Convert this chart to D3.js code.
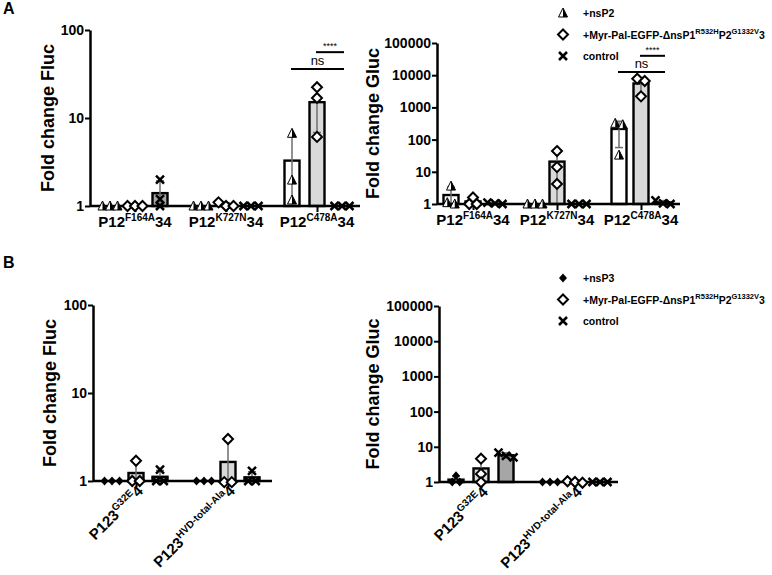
<!DOCTYPE html>
<html>
<head>
<meta charset="utf-8">
<script src="https://cdn.jsdelivr.net/npm/d3@7"></script>
<style>
  body { margin: 0; background: #fff; }
  text { font-family: "Liberation Sans", Arial, sans-serif; }
</style>
</head>
<body>
<div id="chart"></div>
<script>
// ---- data (fold change, 3 replicates per bar) ----
const groupsA = ["F164A", "K727N", "C478A"]
const groupsB = ["G32E", "HVD-total-Ala"]

// panel A, Fluc
const flucA_nsP2 = [[1, 1, 1], [1, 1, 1], [6.7, 1.97, 1.17]]
const flucA_myr  = [[1, 1, 1], [1, 1.1, 1], [22.4, 16.9, 6.1]]
const flucA_ctrl = [[2.0, 1.2, 1.0], [1, 1, 1], [1, 1, 1]]
// panel A, Gluc
const glucA_nsP2 = [[3.6, 1.1, 1.0], [1, 1, 1], [320, 290, 33]]
const glucA_myr  = [[1.6, 1.0, 1.0], [44, 14, 4.2], [6600, 7800, 2200]]
const glucA_ctrl = [[1.1, 1.0, 1.05], [1, 1, 1], [1.3, 1.0, 1.05]]
// panel B, Fluc
const flucB_nsP3 = [[1, 1, 1], [1, 1, 1]]
const flucB_myr  = [[1.7, 1.0, 1.0], [3.0, 0.97, 0.97]]
const flucB_ctrl = [[1.35, 1.0, 1.0], [1.3, 1.0, 1.0]]
// panel B, Gluc
const glucB_nsP3 = [[1.5, 1.0, 1.0], [1, 1, 1]]
const glucB_myr  = [[4.6, 1.7, 0.98], [1.05, 0.95, 1.0]]
const glucB_ctrl = [[6.8, 5.5, 5.0], [1, 1, 1]]

const flucTicks = [1, 10, 100]
const glucTicks = [1, 10, 100, 1000, 10000, 100000]

// significance brackets (series index from/to, level in data units)
const sigFluc = [{from: 0, to: 2, label: "ns", at: 36}, {from: 1, to: 2, label: "****", at: 56}]
const sigGluc = [{from: 0, to: 2, label: "ns", at: 12600}, {from: 1, to: 2, label: "****", at: 40000}]

const myrParts = [["+Myr-Pal-EGFP-ΔnsP1", 0], ["R532H", 1], ["P2", 0], ["G1332V", 1], ["3", 0]]
const legendA = [
  {shape: "tri", parts: [["+nsP2", 0]]},
  {shape: "dia", parts: myrParts},
  {shape: "x", parts: [["control", 0]]}
]
const legendB = [
  {shape: "fdia", parts: [["+nsP3", 0]]},
  {shape: "dia", parts: myrParts},
  {shape: "x", parts: [["control", 0]]}
]

// ---- drawing ----
const W = 772, H = 575
const svg = d3.select("#chart").append("svg")
  .attr("width", W)
  .attr("height", H)

const fills = ["#ffffff", "#d9d9d9", "#a6a6a6"]

const shapes = {
  tri: g => {
    g.append("path").attr("d", "M0,-5L4.5,4L-4.5,4Z").attr("fill", "#fff").attr("stroke", "#000").attr("stroke-width", 1)
    g.append("path").attr("d", "M0,-5L4.5,4L0,4Z").attr("fill", "#000")
  },
  dia: g => g.append("path").attr("d", "M0,-5L5,0L0,5L-5,0Z").attr("fill", "#fff").attr("stroke", "#000").attr("stroke-width", 2),
  fdia: g => g.append("path").attr("d", "M0,-4.5L4,0L0,4.5L-4,0Z").attr("fill", "#000"),
  x: g => g.append("path").attr("d", "M-4,-4L4,4M-4,4L4,-4").attr("stroke", "#000").attr("stroke-width", 2.5).attr("fill", "none")
}

// text with superscripts, pieces laid out one after another by measured width
function rich(parent, parts, size, supSize, anchor) {
  const g = parent.append("g")
  let cursor = 0
  parts.forEach(([t, sup]) => {
    const el = g.append("text")
      .attr("x", cursor)
      .attr("y", sup ? -size * 0.42 : 0)
      .attr("font-size", sup ? supSize : size)
      .attr("font-weight", "bold")
      .text(t)
    cursor += el.node().getComputedTextLength()
  })
  const shift = anchor === "middle" ? -cursor / 2 : anchor === "end" ? -cursor : 0
  g.selectAll("text").attr("x", function() { return +d3.select(this).attr("x") + shift })
  return g
}

function drawPanel(p) {
  const g = svg.append("g")
  const x = d3.scalePoint().domain(p.groups).range(p.centers)
  const sub = d3.scalePoint().domain([0, 1, 2]).range([-p.off, p.off])
  const y = d3.scaleLog().domain([1, p.ticks[p.ticks.length - 1]]).range(p.yRange)
  const base = y(1)
  const bw = 15

  // y axis
  const yAxis = g.append("g")
    .attr("transform", `translate(${p.axisX},0)`)
    .call(d3.axisLeft(y).tickValues(p.ticks).tickFormat(d3.format("d")).tickSize(5).tickSizeOuter(0))
  yAxis.select(".domain").attr("stroke-width", 2.5)
  yAxis.selectAll(".tick line").attr("stroke-width", 2)
  yAxis.selectAll(".tick text").attr("font-size", 14).attr("font-weight", "bold")
    .attr("font-family", "'Liberation Sans', Arial, sans-serif").attr("fill", "#000").attr("x", -6)

  // x axis ticks at group centres
  const xAxis = g.append("g")
    .attr("transform", `translate(0,${base})`)
    .call(d3.axisBottom(x).tickSize(6).tickFormat(""))
  xAxis.select(".domain").remove()
  xAxis.selectAll(".tick line").attr("stroke-width", 2)

  // y title
  g.append("text")
    .attr("transform", `translate(${p.titleX},${(p.yRange[0] + p.yRange[1]) / 2}) rotate(-90)`)
    .attr("text-anchor", "middle")
    .attr("font-size", 18).attr("font-weight", "bold")
    .text(p.title)

  // bars + error bars
  p.series.forEach((ser, si) => {
    ser.forEach((vals, gi) => {
      const cx = x(p.groups[gi]) + sub(si)
      const m = d3.mean(vals)
      const sd = d3.deviation(vals)
      if (m > 1) {
        g.append("rect")
          .attr("x", cx - bw / 2).attr("y", y(m))
          .attr("width", bw).attr("height", base - y(m))
          .attr("fill", fills[si]).attr("stroke", "#000").attr("stroke-width", 2.4)
      }
      if (sd > 0) {
        const hi = m + sd
        const lo = Math.max(m - sd, 1)
        g.append("line").attr("x1", cx).attr("x2", cx).attr("y1", y(lo)).attr("y2", y(hi))
          .attr("stroke", "#6e6e6e").attr("stroke-width", 1.5)
        g.append("line").attr("x1", cx - 4).attr("x2", cx + 4).attr("y1", y(hi)).attr("y2", y(hi))
          .attr("stroke", "#6e6e6e").attr("stroke-width", 1.5)
        if (m - sd > 1) {
          g.append("line").attr("x1", cx - 4).attr("x2", cx + 4).attr("y1", y(lo)).attr("y2", y(lo))
            .attr("stroke", "#6e6e6e").attr("stroke-width", 1.5)
        }
      }
    })
  })

  // x axis line
  g.append("line")
    .attr("x1", p.axisX).attr("x2", p.axisEnd)
    .attr("y1", base).attr("y2", base)
    .attr("stroke", "#000").attr("stroke-width", 2.5)

  // points, spread sideways where they overlap
  p.series.forEach((ser, si) => {
    ser.forEach((vals, gi) => {
      const cx = x(p.groups[gi]) + sub(si)
      const pts = vals.map(v => ({py: y(v)})).sort((a, b) => a.py - b.py)
      const clusters = []
      pts.forEach(pt => {
        const last = clusters[clusters.length - 1]
        if (last && pt.py - last[last.length - 1].py < 6) last.push(pt)
        else clusters.push([pt])
      })
      clusters.forEach(cl => {
        cl.forEach((pt, j) => {
          const dx = (j - (cl.length - 1) / 2) * 7.5
          const mg = g.append("g").attr("transform", `translate(${cx + dx},${pt.py})`)
          shapes[p.shapes[si]](mg)
        })
      })
    })
  })

  // significance brackets
  if (p.sig) {
    const gi = p.groups.length - 1
    p.sig.forEach(s => {
      const x1 = x(p.groups[gi]) + sub(s.from) - 1
      const x2 = x(p.groups[gi]) + sub(s.to) + 2
      const yy = y(s.at)
      g.append("line").attr("x1", x1).attr("x2", x2).attr("y1", yy).attr("y2", yy)
        .attr("stroke", "#000").attr("stroke-width", 2)
      g.append("text").attr("x", (x1 + x2) / 2).attr("y", yy - (s.label === "ns" ? 4 : 3))
        .attr("text-anchor", "middle")
        .attr("font-size", s.label === "ns" ? 13 : 9)
        .text(s.label)
    })
  }

  // category labels
  p.groups.forEach(grp => {
    const cx = x(grp)
    if (!p.rotate) {
      const lg = g.append("g").attr("transform", `translate(${cx},${base + 21})`)
      rich(lg, [[p.prefix, 0], [grp, 1], [p.suffix, 0]], 15, 10, "middle")
    } else {
      const lg = g.append("g").attr("transform", `translate(${cx + 8},${base + 11}) rotate(-45)`)
      rich(lg, [[p.prefix, 0], [grp + " ", 1], [p.suffix, 0]], 15, 10, "end")
    }
  })
}

function drawLegend(items, x0, y0) {
  items.forEach((it, i) => {
    const yy = y0 + i * 21.5
    const mg = svg.append("g").attr("transform", `translate(${x0},${yy})`)
    shapes[it.shape](mg)
    const lg = svg.append("g").attr("transform", `translate(${x0 + 20},${yy + 4})`)
    rich(lg, it.parts, 10.5, 7.5, "start")
  })
}

// panel letters
svg.append("text").attr("x", 3).attr("y", 14).attr("font-size", 16).attr("font-weight", "bold").text("A")
svg.append("text").attr("x", 3).attr("y", 268).attr("font-size", 16).attr("font-weight", "bold").text("B")

drawPanel({
  groups: groupsA, series: [flucA_nsP2, flucA_myr, flucA_ctrl], shapes: ["tri", "dia", "x"],
  centers: [135, 317], off: 25, axisX: 90, axisEnd: 360, yRange: [206, 30], ticks: flucTicks,
  title: "Fold change Fluc", titleX: 54, prefix: "P12", suffix: "34", sig: sigFluc
})
drawPanel({
  groups: groupsA, series: [glucA_nsP2, glucA_myr, glucA_ctrl], shapes: ["tri", "dia", "x"],
  centers: [473, 641], off: 22, axisX: 437, axisEnd: 680, yRange: [204, 43], ticks: glucTicks,
  title: "Fold change Gluc", titleX: 379, prefix: "P12", suffix: "34", sig: sigGluc
})
drawPanel({
  groups: groupsB, series: [flucB_nsP3, flucB_myr, flucB_ctrl], shapes: ["fdia", "dia", "x"],
  centers: [136, 228], off: 24, axisX: 93, axisEnd: 272, yRange: [481, 305], ticks: flucTicks,
  title: "Fold change Fluc", titleX: 56, prefix: "P123", suffix: "4", rotate: true
})
drawPanel({
  groups: groupsB, series: [glucB_nsP3, glucB_myr, glucB_ctrl], shapes: ["fdia", "dia", "x"],
  centers: [481, 575], off: 25, axisX: 439, axisEnd: 618, yRange: [482, 306], ticks: glucTicks,
  title: "Fold change Gluc", titleX: 379, prefix: "P123", suffix: "4", rotate: true
})

drawLegend(legendA, 563, 13)
drawLegend(legendB, 563, 278)
</script>
</body>
</html>
